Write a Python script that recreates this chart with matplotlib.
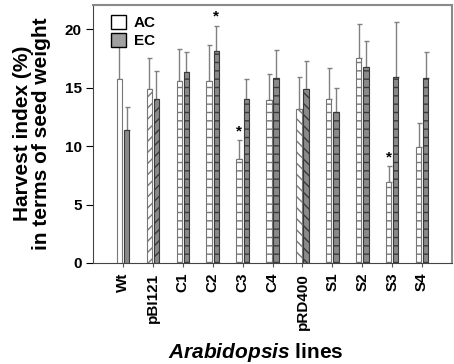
import matplotlib
matplotlib.use("Agg")
import matplotlib.pyplot as plt
from matplotlib.patches import Patch
import numpy as np

plt.rcParams['font.family'] = ['Liberation Sans', 'DejaVu Sans']
plt.rcParams['font.weight'] = 'bold'
plt.rcParams['mathtext.fontset'] = 'custom'
plt.rcParams['mathtext.rm'] = 'Liberation Sans:bold'
plt.rcParams['mathtext.bf'] = 'Liberation Sans:bold'
plt.rcParams['mathtext.it'] = 'Liberation Sans:italic:bold'

categories = ["Wt", "pBI121", "C1", "C2", "C3", "C4", "pRD400", "S1", "S2", "S3", "S4"]
ac_vals = [15.7, 14.9, 15.6, 15.6, 8.9, 13.9, 13.2, 14.0, 17.5, 6.95, 9.9]
ac_err = [2.9, 2.6, 2.7, 3.0, 1.6, 2.3, 2.7, 2.7, 2.9, 1.35, 2.1]
ec_vals = [11.4, 14.0, 16.3, 18.1, 14.0, 15.8, 14.9, 12.9, 16.8, 15.9, 15.8]
ec_err = [1.9, 2.4, 1.7, 2.2, 1.7, 2.4, 2.4, 2.1, 2.2, 4.7, 2.2]
ac_star = [False, False, False, False, True, False, False, False, False, True, False]
ec_star = [False, False, False, True, False, False, False, False, False, False, False]
hatches = ["", "///", "--", "--", "--", "--", "\\\\\\", "--", "--", "--", "--"]

fig = plt.figure(figsize=(4.54, 3.64), dpi=100)
ax = fig.add_axes([0.205, 0.2775, 0.7906, 0.71])

x = np.arange(1, len(categories) + 1)
w = 0.18
off = 0.12
ac_face, ac_edge = "white", "#777777"
ec_face, ec_edge = "#8a8a8a", "#3a3a3a"

for i in range(len(categories)):
    ax.bar(x[i] - off, ac_vals[i], w, color=ac_face, edgecolor=ac_edge,
           hatch=hatches[i], linewidth=0.8, zorder=2)
    ax.bar(x[i] + off, ec_vals[i], w, color=ec_face, edgecolor=ec_edge,
           hatch=hatches[i], linewidth=0.8, zorder=2)

zeros = np.zeros(len(categories))
ax.errorbar(x - off, ac_vals, yerr=[zeros, ac_err], fmt='none', ecolor="#808080",
            elinewidth=1.0, capsize=1.8, capthick=1.0, zorder=1)
ax.errorbar(x + off, ec_vals, yerr=[zeros, ec_err], fmt='none', ecolor="#808080",
            elinewidth=1.0, capsize=1.8, capthick=1.0, zorder=1)

for i in range(len(categories)):
    if ac_star[i]:
        ax.text(x[i] - off, ac_vals[i] + ac_err[i] + 0.15, "*", ha="center", va="bottom",
                fontsize=11, fontweight="bold")
    if ec_star[i]:
        ax.text(x[i] + off, ec_vals[i] + ec_err[i] + 0.15, "*", ha="center", va="bottom",
                fontsize=11, fontweight="bold")

ax.set_xlim(0, 12)
ax.set_ylim(0, 22.1)
ax.set_yticks([0, 5, 10, 15, 20])
ax.set_xticks(x)
ax.set_xticklabels(categories, rotation=90, fontsize=11, fontweight="bold")
ax.tick_params(axis='y', labelsize=11, length=5, width=0.8, direction='out', pad=3)
ax.tick_params(axis='x', length=3, width=0.8, direction='out', color="#555555", pad=4)
for lab in ax.get_yticklabels():
    lab.set_fontweight("bold")

for s in ["top", "right"]:
    ax.spines[s].set_color("#8a8a8a")
    ax.spines[s].set_linewidth(1.5)
for s in ["left", "bottom"]:
    ax.spines[s].set_color("#444444")
    ax.spines[s].set_linewidth(0.8)

ax.set_ylabel("Harvest index (%)\nin terms of seed weight", fontsize=15,
              fontweight="bold", labelpad=10, linespacing=1.0)
ax.set_xlabel(r"$\mathit{Arabidopsis}$ lines", fontsize=15, fontweight="bold", labelpad=8)
ax.xaxis.set_label_coords(0.454, -0.3)

handles = [Patch(facecolor="white", edgecolor="black", label="AC"),
           Patch(facecolor="#a0a0a0", edgecolor="black", label="EC")]
leg = ax.legend(handles=handles, loc="upper left", bbox_to_anchor=(0.02, 1.0),
                frameon=False, fontsize=11, handlelength=1.0, handleheight=1.0,
                handletextpad=0.5, labelspacing=0.2, borderaxespad=0.3)
for t in leg.get_texts():
    t.set_fontweight("bold")

fig.savefig("out.png", dpi=100)
